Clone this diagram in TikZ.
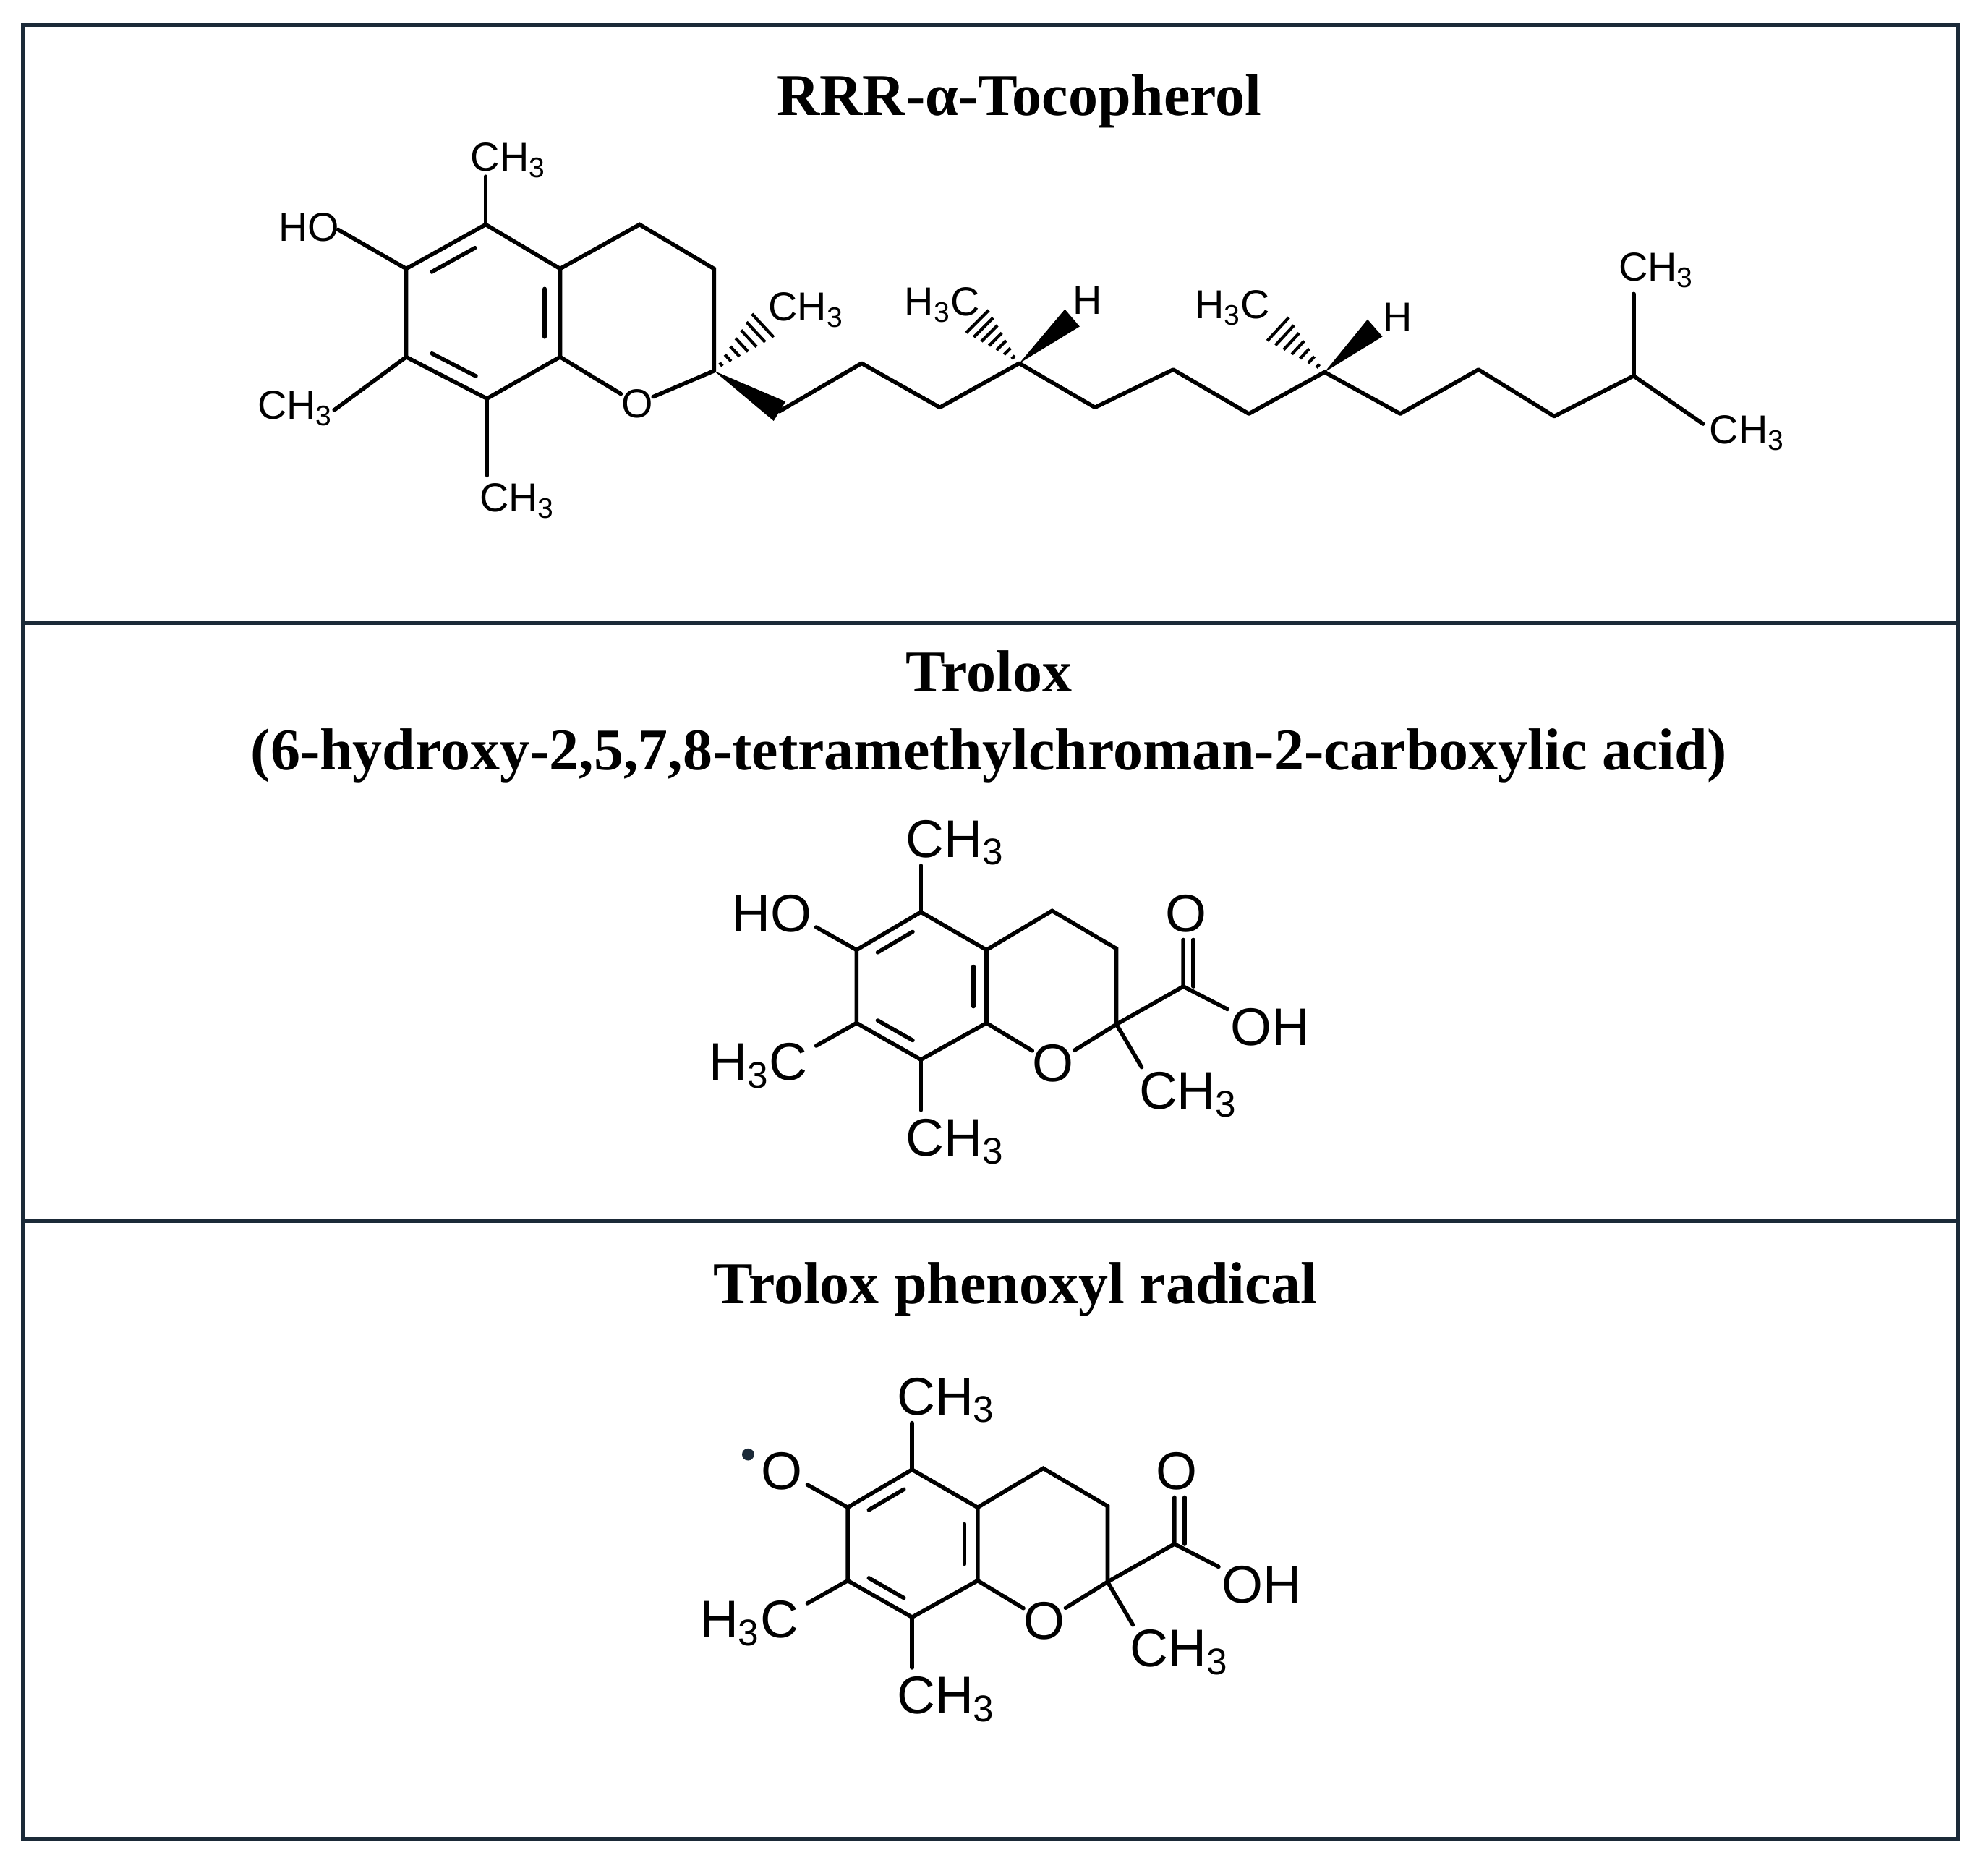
\documentclass[tikz,border=0pt]{standalone}
\usepackage{fontspec}
\setmainfont{Liberation Serif}
\newfontfamily\chemf{Liberation Sans}
\usetikzlibrary{calc}
\definecolor{frame}{HTML}{1B2A38}
\newcommand\innerbond[3]{\draw[bond] ($($(#1)!0.16!(#2)$)!0.2!(#3)$) -- ($($(#2)!0.16!(#1)$)!0.2!(#3)$);}
\newcommand\hashbond[2]{\foreach \k in {1,...,7}{\path ($(#1)!\k/7.6!(#2)$) coordinate (hb); \draw[line width=1.2pt] ($(hb)!{\k*0.9pt}!90:(#2)$) -- ($(hb)!{\k*0.9pt}!-90:(#2)$);}}
\newcommand\wedgebond[2]{\fill (#1) -- ($(#2)!4.5pt!90:(#1)$) -- ($(#2)!4.5pt!-90:(#1)$) -- cycle;}
\newcommand\chroman[2]{%
 \coordinate (c5) at (730,723); \coordinate (c6) at (679,753); \coordinate (c7) at (679,811);
 \coordinate (c8) at (730,840); \coordinate (c8a) at (782,811); \coordinate (c4a) at (782,753);
 \coordinate (c4) at (834,722); \coordinate (c3) at (885,752); \coordinate (c2) at (885,812);
 \coordinate (cen) at (730,782);
 \node[tlab] (O1) at (835,843) {O};
 \draw[bond] (c5)--(c6)--(c7)--(c8)--(c8a)--(c4a)--cycle;
 \draw[bond] (c4a)--(c4)--(c3)--(c2)--(O1)--(c8a);
 \innerbond{c5}{c6}{cen}\innerbond{c4a}{c8a}{cen}\innerbond{c7}{c8}{cen}
 \coordinate (cc) at (938,782); \coordinate (co) at (938,745); \coordinate (coh) at (973,800);
 \node[tlab] (O2) at (940,724) {O};
 \node[tlab] (OH) at (1007,814) {OH};
 \draw[bond] (c2)--(cc)--(co);
 \draw[bond] ($(cc)+(8,0)$)--($(co)+(8,0)$);
 \draw[bond] (cc)--(coh);
 \coordinate (m2) at (905,846); \draw[bond] (c2)--(m2);
 \node[tlab] (M2) at (942,868) {CH\textsubscript{3}};
 \coordinate (m5) at (730,686); \draw[bond] (c5)--(m5);
 \node[tlab] (M5) at (757,668) {CH\textsubscript{3}};
 \coordinate (m7) at (647,829); \draw[bond] (c7)--(m7);
 \node[tlab] (M7) at (601,845) {H\textsubscript{3}C};
 \coordinate (m8) at (730,880); \draw[bond] (c8)--(m8);
 \node[tlab] (M8) at (757,905) {CH\textsubscript{3}};
 \coordinate (o6) at (647,735); \draw[bond] (c6)--(o6);
 #1
 \node[tlab] (HO) at #2;
}
\tikzset{bond/.style={line width=1.6pt,line cap=round},
 tlab/.style={font=\chemf\fontsize{21}{21}\selectfont,inner sep=0pt},
 slab/.style={font=\chemf\fontsize{16}{16}\selectfont,inner sep=0pt},
 ttl/.style={font=\bfseries\fontsize{23.5}{27}\selectfont,inner sep=0pt,align=center}}
\begin{document}
\begin{tikzpicture}[x=0.5pt,y=-0.5pt]
\useasboundingbox (0,0) rectangle (1568,1487);
\draw[frame,line width=1.6pt] (18,20) rectangle (1552,1458);
\draw[frame,line width=1.6pt] (18,494) -- (1552,494);
\draw[frame,line width=1.6pt] (18,968) -- (1552,968);
\node[ttl] (t1) at (808,80) {RRR-α-Tocopherol};
\node[ttl] (t2) at (784,568) {Trolox\\[4pt](6-hydroxy-2,5,7,8-tetramethylchroman-2-carboxylic acid)};
\node[ttl] (t3) at (805,1022) {Trolox phenoxyl radical};
% tocopherol
\coordinate (a5) at (385,178); \coordinate (a6) at (322,213); \coordinate (a7) at (322,283);
\coordinate (a8) at (386,316); \coordinate (a8a) at (444,283); \coordinate (a4a) at (444,213);
\coordinate (a4) at (507,178); \coordinate (a3) at (566,213); \coordinate (a2) at (566,294);
\coordinate (acen) at (383,248);
\node[slab] (aO) at (505,320) {O};
\draw[bond] (a5)--(a6)--(a7)--(a8)--(a8a)--(a4a)--cycle;
\draw[bond] (a4a)--(a4)--(a3)--(a2)--(aO)--(a8a);
\innerbond{a5}{a6}{acen}\innerbond{a4a}{a8a}{acen}\innerbond{a7}{a8}{acen}
\coordinate (am5) at (385,140); \draw[bond] (a5)--(am5);
\node[slab] (AM5) at (403,127) {CH\textsubscript{3}};
\coordinate (aho) at (268,182); \draw[bond] (a6)--(aho);
\node[slab] (AHO) at (245,180) {HO};
\coordinate (am7) at (265,325); \draw[bond] (a7)--(am7);
\node[slab] (AM7) at (234,324) {CH\textsubscript{3}};
\coordinate (am8) at (386,377); \draw[bond] (a8)--(am8);
\node[slab] (AM8) at (410,397) {CH\textsubscript{3}};
\coordinate (am2) at (608,255); \hashbond{a2}{am2}
\node[slab] (AM2) at (639,246) {CH\textsubscript{3}};
\coordinate (k1) at (618,326); \wedgebond{a2}{k1}
\coordinate (k2) at (683,288); \coordinate (k3) at (745,323); \coordinate (k4) at (808,288);
\coordinate (k5) at (868,323); \coordinate (k6) at (930,293); \coordinate (k7) at (990,328);
\coordinate (k8) at (1050,295); \coordinate (k9) at (1110,328); \coordinate (k10) at (1172,293);
\coordinate (k11) at (1232,330); \coordinate (k12) at (1295,298);
\coordinate (k13) at (1295,233); \coordinate (k14) at (1350,336);
\draw[bond,line join=round] (k1)--(k2)--(k3)--(k4)--(k5)--(k6)--(k7)--(k8)--(k9)--(k10)--(k11)--(k12)--(k14);
\draw[bond] (k12)--(k13);
\node[slab] (K13) at (1313,214) {CH\textsubscript{3}};
\node[slab] (K14) at (1385,343) {CH\textsubscript{3}};
\coordinate (h1) at (772,252); \hashbond{k4}{h1}
\node[slab] (H1) at (747,242) {H\textsubscript{3}C};
\coordinate (w1) at (850,252); \wedgebond{k4}{w1}
\node[slab] (W1) at (862,238) {H};
\coordinate (h2) at (1010,258); \hashbond{k8}{h2}
\node[slab] (H2) at (977,244) {H\textsubscript{3}C};
\coordinate (w2) at (1090,260); \wedgebond{k8}{w2}
\node[slab] (W2) at (1108,251) {H};
% trolox
\begin{scope}
\chroman{}{(612,724) {HO}}
\end{scope}
\begin{scope}[shift={(-7,442)}]
\chroman{\fill[frame] (600,711) circle (2.4pt);}{(627,724) {O}}
\end{scope}
\end{tikzpicture}
\end{document}
